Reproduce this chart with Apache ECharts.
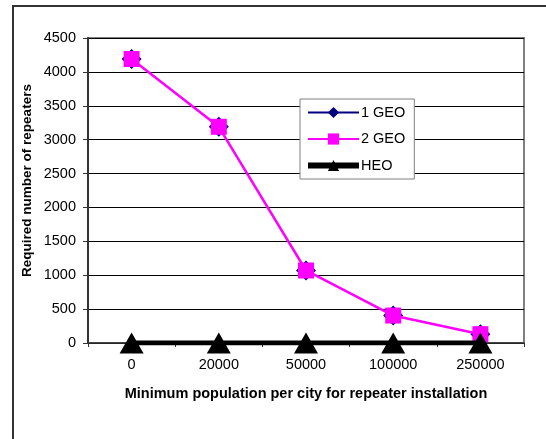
<!DOCTYPE html>
<html>
<head>
<meta charset="utf-8">
<script src="https://cdn.jsdelivr.net/npm/echarts@6/dist/echarts.min.js"></script>
<style>
  html, body { margin: 0; padding: 0; background: #fff; }
  #chart { width: 546px; height: 439px; }
</style>
</head>
<body>
<div id="chart"></div>
<script>
const categories = ['0', '20000', '50000', '100000', '250000'];
const geo1 = [4190, 3190, 1070, 405, 130];
const geo2 = [4190, 3190, 1070, 405, 130];
const heo = [0, 0, 0, 0, 0];
const seriesNames = ['1 GEO', '2 GEO', 'HEO'];
const xTitle = 'Minimum population per city for repeater installation';
const yTitle = 'Required number of repeaters';

const FONT = '"Liberation Sans", Arial, sans-serif';
const chart = echarts.init(document.getElementById('chart'), null, { renderer: 'canvas' });

chart.setOption({
  animation: false,
  backgroundColor: '#fff',
  graphic: [{
    type: 'rect',
    silent: true,
    z: -10,
    shape: { x: 13, y: 6, width: 700, height: 600 },
    style: { fill: 'none', stroke: '#333', lineWidth: 2 }
  }],
  grid: {
    left: 88, top: 38, right: 22, bottom: 96,
    show: true, borderColor: '#808080', borderWidth: 2, backgroundColor: 'transparent'
  },
  legend: {
    orient: 'vertical',
    left: 300, top: 99,
    backgroundColor: '#fff',
    borderColor: '#808080', borderWidth: 1,
    padding: [6, 9, 6, 5],
    itemWidth: 51, itemHeight: 14, itemGap: 11.5,
    textStyle: { fontFamily: FONT, fontSize: 14.5, color: '#000', padding: [0, 0, 0, -3] },
    data: [
      { name: seriesNames[0] },
      { name: seriesNames[1], lineStyle: { width: 2 } },
      { name: seriesNames[2], lineStyle: { width: 6 } }
    ]
  },
  xAxis: {
    type: 'category',
    data: categories,
    boundaryGap: true,
    name: xTitle,
    nameLocation: 'middle',
    nameGap: 43,
    nameTextStyle: { fontFamily: FONT, fontSize: 14.5, fontWeight: 'bold', color: '#000' },
    axisLine: { lineStyle: { color: '#333', width: 1.5 } },
    axisTick: { show: true, length: 4, inside: false, lineStyle: { color: '#333' } },
    axisLabel: { fontFamily: FONT, fontSize: 14.5, color: '#000', margin: 14 },
    splitLine: { show: false }
  },
  yAxis: {
    type: 'value',
    min: 0, max: 4500, interval: 500,
    name: yTitle,
    nameLocation: 'middle',
    nameRotate: 90,
    nameGap: 54,
    nameMoveOverlap: false,
    nameTextStyle: { fontFamily: FONT, fontSize: 13.5, fontWeight: 'bold', color: '#000', padding: [0, 0, 0, 20] },
    axisLine: { show: true, lineStyle: { color: '#333', width: 2 } },
    axisTick: { show: true, length: 5, inside: false, lineStyle: { color: '#333' } },
    axisLabel: { fontFamily: FONT, fontSize: 14.5, color: '#000', margin: 12, formatter: function (v) { return String(v); } },
    splitLine: { show: true, lineStyle: { color: '#000', width: 1 } }
  },
  series: [
    {
      name: seriesNames[0], type: 'line', data: geo1,
      symbol: 'diamond', symbolSize: 20,
      itemStyle: { color: '#000080' },
      lineStyle: { color: '#000080', width: 1 },
      z: 2
    },
    {
      name: seriesNames[1], type: 'line', data: geo2,
      symbol: 'rect', symbolSize: 16,
      itemStyle: { color: '#ff00ff' },
      lineStyle: { color: '#ff00ff', width: 2.5 },
      z: 3
    },
    {
      name: seriesNames[2], type: 'line', data: heo,
      symbol: 'triangle', symbolSize: [24, 21],
      itemStyle: { color: '#000' },
      lineStyle: { color: '#000', width: 5 },
      z: 4
    }
  ]
});
</script>
</body>
</html>
